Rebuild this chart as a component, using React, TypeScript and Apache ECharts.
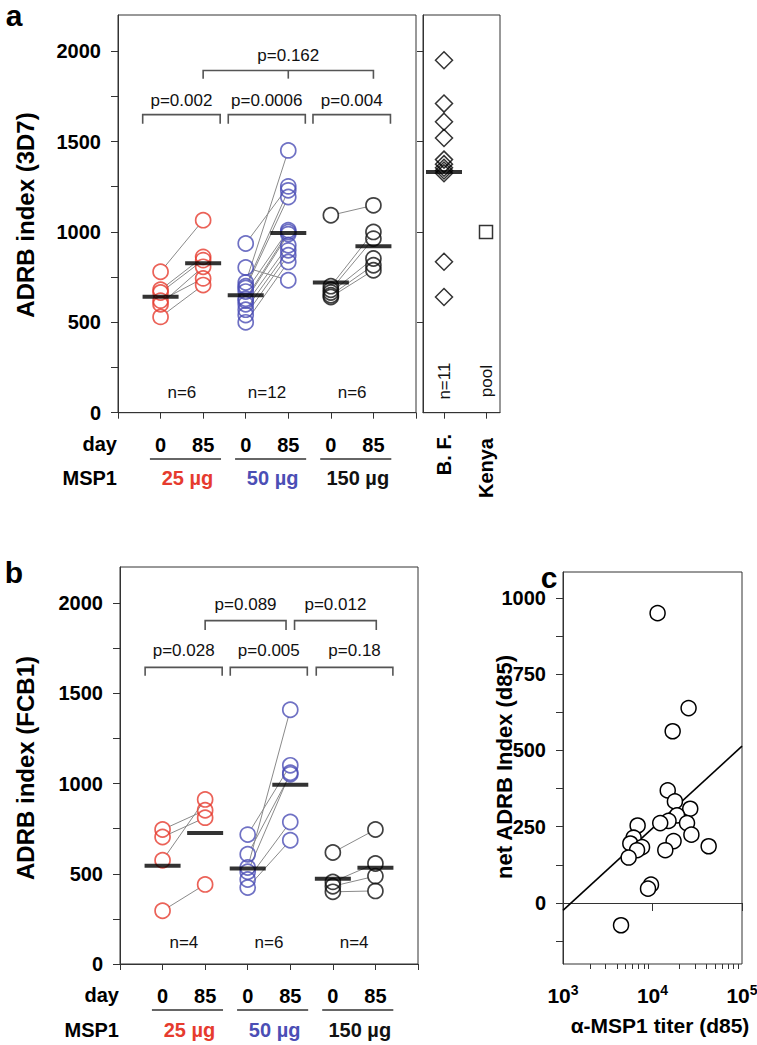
import React, { useEffect, useRef } from 'react';
import * as echarts from 'echarts';

const FONT = '"Liberation Sans", Arial, Helvetica, sans-serif';
const RED = '#e63b2e';
const BLUE = '#4b4eb5';
const BLACK = '#111111';
const AXIS = '#333333';

// shared labels
const dayLabels = ['0', '85', '0', '85', '0', '85'];
const doseLabels = ['25 µg', '50 µg', '150 µg'];
const doseColors = [RED, BLUE, BLACK];
const yLabelsAB = [0, 500, 1000, 1500, 2000];
const yTicksAB = [0, 250, 500, 750, 1000, 1250, 1500, 1750, 2000];

// panel a (3D7) - paired day 0 / day 85 values
const a25d0 = [780, 680, 665, 620, 600, 530];
const a25d85 = [1065, 862, 844, 743, 807, 706];
const a50d0 = [936, 803, 720, 700, 690, 670, 630, 620, 600, 570, 540, 500];
const a50d85 = [1252, 733, 1451, 1230, 1193, 1010, 1000, 988, 926, 898, 871, 834];
const a150d0 = [1092, 700, 680, 665, 650, 640];
const a150d85 = [1147, 1000, 963, 853, 816, 788];
const aCenters = [641, 827, 650, 994, 720, 921];
const aN = ['n=6', 'n=12', 'n=6'];
const bfValues = [1950, 1710, 1610, 1520, 1400, 1375, 1355, 1340, 1325, 835, 640];
const bfCenter = 1332;
const kenyaPool = [1000];
const bfLabels = ['n=11', 'pool'];
const bfCats = ['B. F.', 'Kenya'];
// brackets: [x1, x2, yLine, yEnd, xMid(-1 none), yText]
const aBrackets = [
  [0.58, 2.4, 1649, 1599, -1, 1728],
  [2.59, 4.4, 1649, 1599, -1, 1728],
  [4.58, 6.4, 1649, 1599, -1, 1728],
  [2.0, 6.0, 1893, 1848, 4.0, 1976],
];
const aP = ['p=0.002', 'p=0.0006', 'p=0.004', 'p=0.162'];

// panel b (FCB1)
const b25d0 = [745, 704, 575, 295];
const b25d85 = [852, 811, 912, 441];
const b50d0 = [717, 608, 535, 511, 468, 424];
const b50d85 = [1101, 1051, 1409, 1060, 787, 686];
const b150d0 = [618, 455, 431, 400];
const b150d85 = [745, 557, 487, 405];
const bCenters = [544, 726, 529, 994, 472, 533];
const bN = ['n=4', 'n=6', 'n=4'];
const bBrackets = [
  [0.59, 2.4, 1644, 1598, -1, 1737],
  [2.59, 4.4, 1644, 1598, -1, 1737],
  [4.61, 6.41, 1644, 1598, -1, 1737],
  [2.0, 3.9, 1903, 1851, -1, 1991],
  [4.1, 6.02, 1903, 1851, -1, 1991],
];
const bP = ['p=0.028', 'p=0.005', 'p=0.18', 'p=0.089', 'p=0.012'];

// panel c
const cTiter = [11400, 25300, 16800, 14800, 17800, 26400, 18800, 15100, 12200, 24300, 6820, 6150, 5650, 7640, 6720, 5410, 27200, 17200, 13900, 42400, 9620, 8910, 4450];
const cNet = [950, 639, 563, 369, 333, 309, 287, 269, 262, 262, 254, 214, 195, 183, 173, 149, 224, 203, 173, 186, 60, 47, -73];
const cFit = [[1000, -24], [100000, 514]];
const cYLabels = [0, 250, 500, 750, 1000];
const cYTicks = [-125, 0, 125, 250, 375, 500, 625, 750, 875, 1000];
const cXMajor = [1000, 10000, 100000];
const cXMinor = [2000, 3000, 4000, 5000, 6000, 7000, 8000, 9000, 20000, 30000, 40000, 50000, 60000, 70000, 80000, 90000];

const L = {
  a: { left: 118, top: 15, width: 298, height: 397.7 },
  bf: { left: 423, top: 15, width: 77, height: 397.7 },
  b: { left: 120, top: 567, width: 298, height: 397 },
  c: { left: 563, top: 572, width: 179, height: 392 },
};

const tickLabel = { fontFamily: FONT, fontWeight: 'bold' as const, fontSize: 20, color: '#000', formatter: (v: number) => String(v) };

function pairRender(params: any, api: any) {
  const p = api.coord([api.value(0), api.value(1)]);
  const q = api.coord([api.value(2), api.value(3)]);
  const dx = q[0] - p[0], dy = q[1] - p[1];
  const len = Math.hypot(dx, dy);
  const r = 7.5;
  if (len <= 2 * r) return { type: 'group', children: [] };
  const ux = dx / len, uy = dy / len;
  return {
    type: 'line',
    shape: { x1: p[0] + ux * r, y1: p[1] + uy * r, x2: q[0] - ux * r, y2: q[1] - uy * r },
    style: { stroke: '#8a8a8a', lineWidth: 1 },
  };
}

function bracketSeries(xi: number, yi: number, data: number[][], labels: string[]) {
  return {
    type: 'custom',
    xAxisIndex: xi,
    yAxisIndex: yi,
    silent: true,
    encode: { x: [0, 1], y: [2, 3] },
    data,
    renderItem: (params: any, api: any) => {
      const x1 = api.value(0), x2 = api.value(1), yl = api.value(2), ye = api.value(3), xm = api.value(4), yt = api.value(5);
      const e1 = api.coord([x1, ye]), p1 = api.coord([x1, yl]), p2 = api.coord([x2, yl]), e2 = api.coord([x2, ye]);
      const children: any[] = [
        { type: 'polyline', shape: { points: [e1, p1, p2, e2] }, style: { stroke: '#555', lineWidth: 1.6, fill: null } },
      ];
      if (xm >= 0) {
        const m1 = api.coord([xm, yl]), m2 = api.coord([xm, ye]);
        children.push({ type: 'line', shape: { x1: m1[0], y1: m1[1], x2: m2[0], y2: m2[1] }, style: { stroke: '#555', lineWidth: 1.6 } });
      }
      const t = api.coord([(x1 + x2) / 2, yt]);
      children.push({
        type: 'text', x: t[0], y: t[1],
        style: { text: labels[params.dataIndex], fontFamily: FONT, fontSize: 17, fill: '#111', align: 'center', verticalAlign: 'middle' },
      });
      return { type: 'group', children };
    },
  };
}

function textSeries(xi: number, yi: number, data: number[][], labels: string[], rotate: boolean) {
  return {
    type: 'custom',
    xAxisIndex: xi,
    yAxisIndex: yi,
    silent: true,
    data,
    renderItem: (params: any, api: any) => {
      const t = api.coord([api.value(0), api.value(1)]);
      return {
        type: 'text', x: t[0], y: t[1], rotation: rotate ? Math.PI / 2 : 0,
        style: { text: labels[params.dataIndex], fontFamily: FONT, fontSize: 17, fill: '#111', align: 'center', verticalAlign: 'middle' },
      };
    },
  };
}

function groupSeries(xi: number, yi: number, g: number, d0: number[], d85: number[], color: string) {
  const x0 = 2 * g + 1, x1 = 2 * g + 2;
  const pairs = d0.map((v, i) => [x0, v, x1, d85[i]]);
  return [
    {
      type: 'custom', xAxisIndex: xi, yAxisIndex: yi, silent: true,
      encode: { x: [0, 2], y: [1, 3] }, data: pairs, renderItem: pairRender, z: 2,
    },
    {
      type: 'scatter', xAxisIndex: xi, yAxisIndex: yi, silent: true, z: 3,
      symbol: 'circle', symbolSize: 15,
      itemStyle: { color: 'rgba(255,255,255,0)', borderColor: color, borderWidth: 1.7 },
      data: [...d0.map((v) => [x0, v]), ...d85.map((v) => [x1, v])],
    },
  ];
}

function centerSeries(xi: number, yi: number, data: number[][]) {
  return {
    type: 'scatter', xAxisIndex: xi, yAxisIndex: yi, silent: true, z: 4,
    symbol: 'rect', symbolSize: [36, 4], itemStyle: { color: '#000' }, data,
  };
}

function catXAxis(gridIndex: number) {
  return {
    type: 'value', gridIndex, min: 0, max: 7,
    axisLine: { show: true, lineStyle: { color: AXIS, width: 1 } },
    axisTick: { show: true, customValues: [0, 1, 2, 3, 4, 5, 6, 7], length: 6, lineStyle: { color: AXIS } },
    axisLabel: { ...tickLabel, customValues: [1, 2, 3, 4, 5, 6], margin: 22, formatter: (v: number) => dayLabels[Math.round(v) - 1] },
    splitLine: { show: false },
  };
}

function abYAxis(gridIndex: number) {
  return {
    type: 'value', gridIndex, min: 0, max: 2200,
    axisLine: { show: true, lineStyle: { color: AXIS, width: 1 } },
    axisTick: { show: true, customValues: yTicksAB, length: 7, lineStyle: { color: AXIS } },
    axisLabel: { ...tickLabel, customValues: yLabelsAB, margin: 17 },
    splitLine: { show: false },
  };
}

const supMap: Record<number, string> = { 3: '3', 4: '4', 5: '5' };

export default function App() {
  const ref = useRef<HTMLDivElement>(null);
  useEffect(() => {
    document.body.style.margin = '0';
    const chart = echarts.init(ref.current!, null, { renderer: 'svg' });
    const px = (p: any, v: number) => p.left + (v * p.width) / 7;

    const graphic: any[] = [];
    const txt = (text: string, x: number, y: number, o: any = {}) =>
      graphic.push({
        type: 'text', x, y, rotation: o.rotation || 0, silent: true,
        style: {
          text, fontFamily: FONT, fontSize: o.size || 20, fontWeight: o.weight || 'bold', fill: o.color || '#000',
          align: o.align || 'center', verticalAlign: 'middle',
        },
      });
    // panel letters
    txt('a', 14, 15, { size: 30 });
    txt('b', 14, 572, { size: 30 });
    txt('c', 549, 577, { size: 30 });
    // y titles
    txt('ADRB index (3D7)', 25, 215, { size: 24, rotation: Math.PI / 2 });
    txt('ADRB index (FCB1)', 25, 768, { size: 24, rotation: Math.PI / 2 });
    txt('net ADRB Index (d85)', 504, 767, { size: 22, rotation: Math.PI / 2 });
    txt('α-MSP1 titer (d85)', 660, 1025, { size: 21 });
    // rows below panels a and b
    const rows = [
      { p: L.a, dayY: 444, lineY: 459, doseY: 478 },
      { p: L.b, dayY: 995, lineY: 1010, doseY: 1030 },
    ];
    rows.forEach((r) => {
      txt('day', r.p.left - 1, r.dayY, { align: 'right' });
      txt('MSP1', r.p.left - 1, r.doseY, { align: 'right' });
      doseLabels.forEach((d, g) => {
        const xa = px(r.p, 2 * g + 0.75), xb = px(r.p, 2 * g + 2.42);
        graphic.push({ type: 'line', silent: true, shape: { x1: xa, y1: r.lineY, x2: xb, y2: r.lineY }, style: { stroke: '#666', lineWidth: 2 } });
        txt(d, (xa + xb) / 2 + 2, r.doseY, { color: doseColors[g] });
      });
    });
    // B.F. / Kenya rotated category names
    const bfX = (v: number) => L.bf.left + (v * L.bf.width) / 11;
    txt(bfCats[0], bfX(3), 434, { rotation: Math.PI / 2, align: 'right' });
    txt(bfCats[1], bfX(9), 438, { rotation: Math.PI / 2, align: 'right' });

    const series: any[] = [];
    // panel a
    [[a25d0, a25d85], [a50d0, a50d85], [a150d0, a150d85]].forEach(([d0, d85], g) =>
      series.push(...groupSeries(0, 0, g, d0, d85, doseColors[g])));
    series.push(centerSeries(0, 0, aCenters.map((v, i) => [i + 1, v])));
    series.push(bracketSeries(0, 0, aBrackets, aP));
    series.push(textSeries(0, 0, aN.map((_, g) => [2 * g + 1.5, 110]), aN, false));
    // B.F. / Kenya
    series.push({
      type: 'scatter', xAxisIndex: 1, yAxisIndex: 1, silent: true, z: 3, symbol: 'diamond', symbolSize: [17, 17],
      itemStyle: { color: 'rgba(255,255,255,0)', borderColor: '#000', borderWidth: 1.5 },
      data: bfValues.map((v) => [3, v]),
    });
    series.push({
      type: 'scatter', xAxisIndex: 1, yAxisIndex: 1, silent: true, z: 3, symbol: 'rect', symbolSize: 13,
      itemStyle: { color: 'rgba(255,255,255,0)', borderColor: '#000', borderWidth: 1.5 },
      data: kenyaPool.map((v) => [9, v]),
    });
    series.push(centerSeries(1, 1, [[3, bfCenter]]));
    series.push(textSeries(1, 1, [[3, 175], [9, 175]], bfLabels, true));
    // panel b
    [[b25d0, b25d85], [b50d0, b50d85], [b150d0, b150d85]].forEach(([d0, d85], g) =>
      series.push(...groupSeries(2, 2, g, d0, d85, doseColors[g])));
    series.push(centerSeries(2, 2, bCenters.map((v, i) => [i + 1, v])));
    series.push(bracketSeries(2, 2, bBrackets, bP));
    series.push(textSeries(2, 2, bN.map((_, g) => [2 * g + 1.5, 120]), bN, false));
    // panel c
    series.push({
      type: 'line', xAxisIndex: 3, yAxisIndex: 3, silent: true, symbol: 'none', z: 2,
      lineStyle: { color: '#000', width: 1.6 }, data: cFit,
    });
    series.push({
      type: 'scatter', xAxisIndex: 3, yAxisIndex: 3, silent: true, z: 3, symbol: 'circle', symbolSize: 15,
      itemStyle: { color: '#fff', borderColor: '#000', borderWidth: 1.5, opacity: 1 },
      data: cTiter.map((t, i) => [t, cNet[i]]),
    });

    const gridBase = { show: true, borderColor: AXIS, borderWidth: 1, backgroundColor: 'transparent', containLabel: false, outerBoundsMode: 'none' };

    chart.setOption({
      animation: false,
      backgroundColor: '#fff',
      textStyle: { fontFamily: FONT },
      grid: [
        { ...gridBase, ...L.a },
        { ...gridBase, ...L.bf },
        { ...gridBase, ...L.b },
        { ...gridBase, ...L.c },
      ],
      xAxis: [
        catXAxis(0),
        {
          type: 'value', gridIndex: 1, min: 0, max: 11, position: 'bottom',
          axisLine: { show: true, lineStyle: { color: AXIS } },
          axisTick: { show: true, customValues: [3, 9], length: 6, lineStyle: { color: AXIS } },
          axisLabel: { show: false }, splitLine: { show: false },
        },
        catXAxis(2),
        {
          type: 'log', gridIndex: 3, logBase: 10, min: 1000, max: 100000, position: 'bottom',
          axisLine: { show: true, lineStyle: { color: AXIS } },
          axisTick: { show: true, customValues: cXMajor, length: 8, lineStyle: { color: AXIS } },
          axisLabel: {
            customValues: cXMajor, margin: 19,
            formatter: (v: number) => `{b|10}{s|${supMap[Math.round(Math.log10(v))]}}`,
            rich: {
              b: { fontFamily: FONT, fontWeight: 'bold', fontSize: 21, color: '#000', verticalAlign: 'bottom' },
              s: { fontFamily: FONT, fontWeight: 'bold', fontSize: 14, color: '#000', verticalAlign: 'bottom', padding: [0, 0, 9, 0] },
            },
          },
          splitLine: { show: false },
        },
        {
          type: 'log', gridIndex: 3, logBase: 10, min: 1000, max: 100000, position: 'bottom', offset: 0,
          axisLine: { show: false },
          axisTick: { show: true, customValues: cXMinor, length: 5, lineStyle: { color: AXIS } },
          axisLabel: { show: false }, splitLine: { show: false },
        },
      ],
      yAxis: [
        abYAxis(0),
        {
          type: 'value', gridIndex: 1, min: 0, max: 2200,
          axisLine: { show: true, lineStyle: { color: AXIS } },
          axisTick: { show: true, customValues: [500, 1000, 1500, 2000], length: 6, lineStyle: { color: AXIS } },
          axisLabel: { show: false }, splitLine: { show: false },
        },
        abYAxis(2),
        {
          type: 'value', gridIndex: 3, min: -200, max: 1085,
          axisLine: { show: true, lineStyle: { color: AXIS } },
          axisTick: { show: true, customValues: cYTicks, length: 7, lineStyle: { color: AXIS } },
          axisLabel: { ...tickLabel, customValues: cYLabels, margin: 17 },
          splitLine: { show: false },
        },
      ],
      graphic,
      series,
    });
    return () => chart.dispose();
  }, []);
  return <div ref={ref} style={{ width: 757, height: 1045 }} />;
}
